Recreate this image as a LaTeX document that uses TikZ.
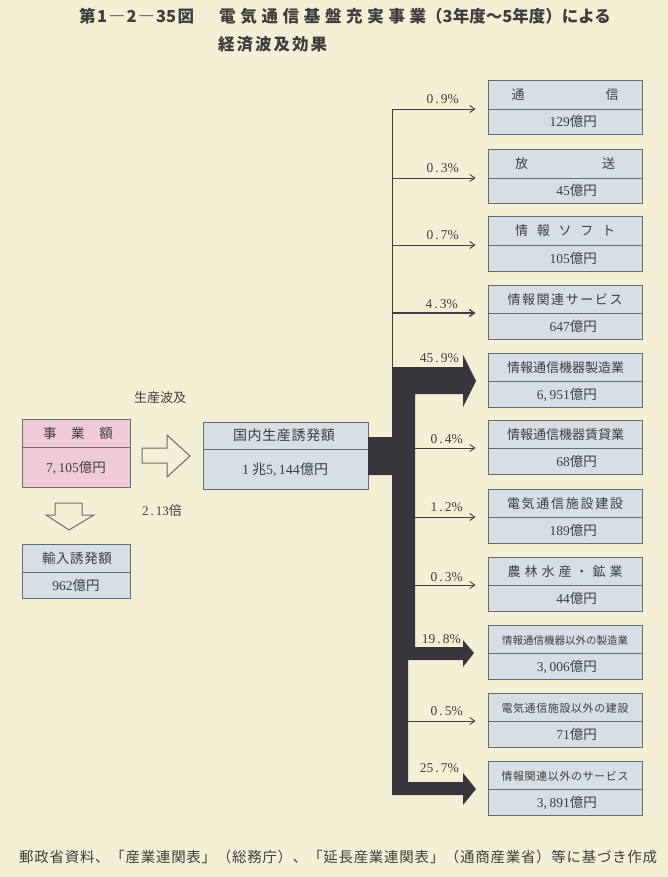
\documentclass[tikz,border=0pt]{standalone}
\usepackage{fontspec}
\setmainfont{Liberation Serif}
\newfontfamily\cjk{Noto Sans CJK JP}
\usetikzlibrary{arrows.meta}
\definecolor{bg}{HTML}{F3F0D6}
\definecolor{boxblue}{HTML}{D6DEE6}
\definecolor{boxpink}{HTML}{F0CAD6}
\definecolor{edge}{HTML}{6C6C6C}
\definecolor{ink}{HTML}{3E3E3E}
\definecolor{trunk}{HTML}{38363C}
\makeatletter
\def\sp@loop#1{\ifx#1\relax\else\hfill #1\expandafter\sp@loop\fi}
\def\sp@first#1{#1\sp@loop}
\newcommand\spreadto[2]{\makebox[#1][s]{\sp@first#2\relax}}
\makeatother
\newcommand\cm{,\kern2.5pt}
\newcommand\dt{\kern2pt.\kern2pt}
\tikzset{
  rbx/.style={draw=edge, line width=1pt, fill=boxblue, inner sep=0pt, minimum width=154pt, minimum height=54pt},
  lbl/.style={inner sep=0pt, text=ink, font=\cjk\fontsize{13}{15}\selectfont},
  num/.style={inner sep=0pt, text=ink, font=\fontsize{13.5}{15}\selectfont},
  pct/.style={inner sep=0pt, text=ink, font=\fontsize{13.5}{15}\selectfont, anchor=base east},
  thinarr/.style={draw=ink, line width=0.9pt, -{Straight Barb[length=5pt,width=7pt]}, shorten >=12pt},
  hollow/.style={draw=edge, line width=1pt, fill=bg, line join=miter},
  divider/.style={draw=edge, line width=0.9pt},
  ttl/.style={inner sep=0pt, text=ink, font=\cjk\bfseries\fontsize{16.5}{18}\selectfont, anchor=base west},
}
\newcommand\rbox[4]{%
  \node[rbx] (#1) at (565,#2-1) {};
  \draw[divider] ([yshift=-1pt]#1.west) -- ([yshift=-1pt]#1.east);
  \node[lbl, anchor=base] (#1t) at (565,#2-9) {#3};
  \node[num, anchor=base east] (#1b) at (597,#2+18) {#4};
}
\begin{document}
\begin{tikzpicture}[x=1pt,y=-1pt]
\fill[bg] (0,0) rectangle (668,877);
\useasboundingbox (0,0) rectangle (668,877);

% title
\node[ttl] (t1) at (79,23) {\makebox[115pt][s]{第\hfill 1\hfill ―\hfill 2\hfill ―\hfill 35\hfill 図}};
\node[ttl] (t2) at (219,23) {\spreadto{207pt}{電気通信基盤充実事業}};
\node[ttl] (t3) at (426,23) {（3年度～5年度）による};
\node[ttl] (t4) at (218,51) {\spreadto{109pt}{経済波及効果}};

% left boxes
\node[draw=edge, line width=1pt, fill=boxpink, inner sep=0pt, minimum width=108pt, minimum height=68pt] (jg) at (76,453) {};
\draw[divider] ([yshift=6pt]jg.west) -- ([yshift=6pt]jg.east);
\node[lbl, anchor=base, font=\cjk\fontsize{13.5}{15}\selectfont] (jgt) at (78,438) {\spreadto{70pt}{事業額}};
\node[num, anchor=base] (jgb) at (76,472) {7\cm 105{\cjk 億円}};

\node[draw=edge, line width=1pt, fill=boxblue, inner sep=0pt, minimum width=108pt, minimum height=54pt] (im) at (76,571) {};
\draw[divider] ([yshift=-1pt]im.west) -- ([yshift=-1pt]im.east);
\node[lbl, anchor=base, font=\cjk\fontsize{13.5}{15}\selectfont] (imt) at (77,563) {\spreadto{70pt}{輸入誘発額}};
\node[num, anchor=base] (imb) at (76,590) {962{\cjk 億円}};

% middle box
\node[draw=edge, line width=1pt, fill=boxblue, inner sep=0pt, minimum width=165pt, minimum height=67pt] (mid) at (285.5,455.5) {};
\draw[divider] ([yshift=6.5pt]mid.west) -- ([yshift=6.5pt]mid.east);
\node[lbl, anchor=base, font=\cjk\fontsize{14}{16}\selectfont] (midt) at (284,440.5) {\spreadto{102pt}{国内生産誘発額}};
\node[num, anchor=base, font=\fontsize{14}{16}\selectfont] (midb) at (285,474) {1\kern3pt{\cjk 兆}5\cm 144{\cjk 億円}};

% hollow arrows
\draw[hollow] (142,448) -- (167,448) -- (167,435) -- (190,456) -- (167,477) -- (167,463) -- (142,463) -- cycle;
\draw[hollow] (55,503) -- (82,503) -- (82,515) -- (94,515) -- (69,530) -- (46,515) -- (55,515) -- cycle;
\node[lbl, anchor=base] (sp) at (160,402) {生産波及};
\node[num, anchor=base, font=\fontsize{13}{15}\selectfont] (bai) at (162,515) {2\dt 13{\cjk 倍}};

% right boxes
\rbox{rb1}{109}{\spreadto{107pt}{通信}}{129{\cjk 億円}}
\rbox{rb2}{178}{\spreadto{100pt}{放送}}{45{\cjk 億円}}
\rbox{rb3}{245}{\spreadto{100pt}{情報ソフト}}{105{\cjk 億円}}
\rbox{rb4}{313}{\spreadto{115pt}{情報関連サービス}}{647{\cjk 億円}}
\rbox{rb5}{381}{\spreadto{116pt}{情報通信機器製造業}}{6\cm 951{\cjk 億円}}
\rbox{rb6}{448}{\spreadto{116pt}{情報通信機器賃貸業}}{68{\cjk 億円}}
\rbox{rb7}{517}{\spreadto{116pt}{電気通信施設建設}}{189{\cjk 億円}}
\rbox{rb8}{585}{\spreadto{115pt}{農林水産・鉱業}}{44{\cjk 億円}}
\rbox{rb9}{653}{\fontsize{10.5}{12}\selectfont \spreadto{126pt}{情報通信機器以外の製造業}}{3\cm 006{\cjk 億円}}
\rbox{rb10}{721}{\fontsize{11}{12}\selectfont \spreadto{127pt}{電気通信施設以外の建設}}{71{\cjk 億円}}
\rbox{rb11}{789}{\fontsize{11}{12}\selectfont \spreadto{127pt}{情報関連以外のサービス}}{3\cm 891{\cjk 億円}}

% thick trunk
\fill[trunk] (368,437) -- (392,437) -- (392,367) -- (463,367) -- (463,355) -- (476,381) -- (463,407) -- (463,394) -- (415,394) -- (415,647) -- (463,647) -- (463,640) -- (474,653) -- (463,667) -- (463,660) -- (408,660) -- (408,782) -- (463,782) -- (463,773) -- (476,789) -- (463,805) -- (463,795) -- (392,795) -- (392,475) -- (368,475) -- cycle;

% thin trunk
\coordinate (j1) at (392.6,109);
\coordinate (j2) at (392.6,178);
\coordinate (j3) at (392.6,245);
\coordinate (j4) at (392.6,313);
\coordinate (j5) at (392.6,368);
\coordinate (j6) at (415,448);
\coordinate (j7) at (415,517);
\coordinate (j8) at (415,585);
\coordinate (j10) at (408,721);
\draw[draw=ink, line width=1.3pt] (j1) -- (j5);
\draw[thinarr] (j1) -- (j1 -| rb1.west);
\draw[thinarr] (j2) -- (j2 -| rb2.west);
\draw[thinarr] (j3) -- (j3 -| rb3.west);
\draw[thinarr, line width=1.4pt] (j4) -- (j4 -| rb4.west);
\draw[thinarr] (j6) -- (j6 -| rb6.west);
\draw[thinarr] (j7) -- (j7 -| rb7.west);
\draw[thinarr] (j8) -- (j8 -| rb8.west);
\draw[thinarr] (j10) -- (j10 -| rb10.west);

% percentages
\node[pct] (p1) at (459,104) {0\dt 9\%};
\node[pct] (p2) at (459,173) {0\dt 3\%};
\node[pct] (p3) at (459,240) {0\dt 7\%};
\node[pct] (p4) at (458,308) {4\dt 3\%};
\node[pct] (p5) at (459,362) {45\dt 9\%};
\node[pct] (p6) at (463,443) {0\dt 4\%};
\node[pct] (p7) at (463,511) {1\dt 2\%};
\node[pct] (p8) at (463,581) {0\dt 3\%};
\node[pct] (p9) at (461,643) {19\dt 8\%};
\node[pct] (p10) at (463,715) {0\dt 5\%};
\node[pct] (p11) at (459,772) {25\dt 7\%};

% footer
\node[lbl, anchor=base west, font=\cjk\fontsize{14.5}{16}\selectfont] (src) at (19,862) {\spreadto{638pt}{郵政省資料、「産業連関表」（総務庁）、「延長産業連関表」（通商産業省）等に基づき作成}};
\end{tikzpicture}
\end{document}
